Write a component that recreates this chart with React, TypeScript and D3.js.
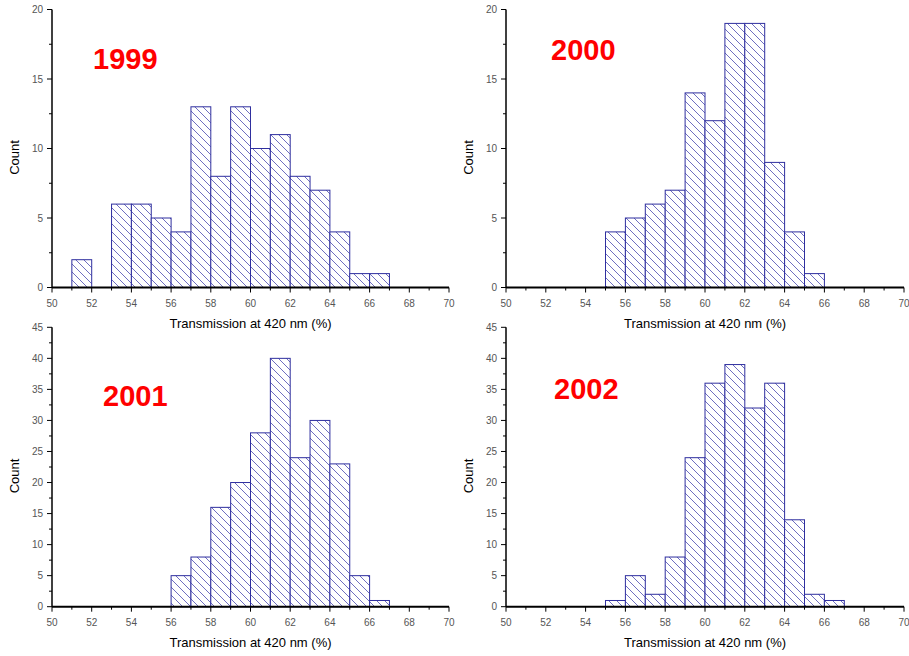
import React from "react";
import * as d3 from "d3";

// Histogram bins: each bin spans [start, start + 1) in % transmission
const bins1999 = [51, 52, 53, 54, 55, 56, 57, 58, 59, 60, 61, 62, 63, 64, 65, 66];
const counts1999 = [2, 0, 6, 6, 5, 4, 13, 8, 13, 10, 11, 8, 7, 4, 1, 1];

const bins2000 = [55, 56, 57, 58, 59, 60, 61, 62, 63, 64, 65];
const counts2000 = [4, 5, 6, 7, 14, 12, 19, 19, 9, 4, 1];

const bins2001 = [56, 57, 58, 59, 60, 61, 62, 63, 64, 65, 66];
const counts2001 = [5, 8, 16, 20, 28, 40, 24, 30, 23, 5, 1];

const bins2002 = [55, 56, 57, 58, 59, 60, 61, 62, 63, 64, 65, 66];
const counts2002 = [1, 5, 2, 8, 24, 36, 39, 32, 36, 14, 2, 1];

const years = ["1999", "2000", "2001", "2002"];
const xTickValues = [50, 52, 54, 56, 58, 60, 62, 64, 66, 68, 70];
const yMaxes = [20, 20, 45, 45];

const xTitle = "Transmission at 420 nm (%)";
const yTitle = "Count";

const binSets = [bins1999, bins2000, bins2001, bins2002];
const countSets = [counts1999, counts2000, counts2001, counts2002];

// Layout of the four panels (pixel frames)
const frames = [
  { left: 52, right: 449, top: 9.5, bottom: 287.5, yearX: 93, yearY: 69 },
  { left: 506, right: 904, top: 9.5, bottom: 287.5, yearX: 551, yearY: 60 },
  { left: 52, right: 449, top: 327.3, bottom: 606.7, yearX: 103, yearY: 406 },
  { left: 506, right: 904, top: 327.3, bottom: 606.7, yearX: 554, yearY: 399 },
];

const FONT = "Liberation Sans, Arial, sans-serif";
const BAR_STROKE = "#2f2f9f";
const HATCH = "#4a4ab0";

function Panel({ idx }: { idx: number }) {
  const f = frames[idx];
  const bins = binSets[idx];
  const counts = countSets[idx];
  const yMax = yMaxes[idx];

  const x = d3.scaleLinear().domain([50, 70]).range([f.left, f.right]);
  const y = d3.scaleLinear().domain([0, yMax]).range([f.bottom, f.top]);

  const xMinor = d3.range(50, 71, 1);
  const yMajor = d3.range(0, yMax + 0.001, 5);
  const yMinor = d3.range(0, yMax + 0.001, 2.5);

  return (
    <g>
      {/* bars */}
      {bins.map((b, i) => {
        const c = counts[i];
        if (c <= 0) return null;
        const x0 = x(b);
        const x1 = x(b + 1);
        const y0 = y(c);
        return (
          <rect
            key={i}
            x={x0}
            y={y0}
            width={x1 - x0}
            height={f.bottom - y0}
            fill="url(#hatch)"
            stroke={BAR_STROKE}
            strokeWidth={1}
          />
        );
      })}

      {/* y axis */}
      <line x1={f.left} x2={f.left} y1={f.top} y2={f.bottom} stroke="#000" strokeWidth={1.5} />
      {yMinor.map((v) => (
        <line
          key={"ym" + v}
          x1={f.left - (v % 5 === 0 ? 5 : 3)}
          x2={f.left}
          y1={y(v)}
          y2={y(v)}
          stroke="#000"
          strokeWidth={1}
        />
      ))}
      {yMajor.map((v) => (
        <text
          key={"yl" + v}
          x={f.left - 9}
          y={y(v)}
          dy="0.35em"
          textAnchor="end"
          fontFamily={FONT}
          fontSize={10}
          fill="#555"
        >
          {v}
        </text>
      ))}

      {/* x axis */}
      <line x1={f.left} x2={f.right} y1={f.bottom} y2={f.bottom} stroke="#000" strokeWidth={2} />
      {xMinor.map((v) => (
        <line
          key={"xm" + v}
          x1={x(v)}
          x2={x(v)}
          y1={f.bottom}
          y2={f.bottom + (v % 2 === 0 ? 5 : 3)}
          stroke="#000"
          strokeWidth={1}
        />
      ))}
      {xTickValues.map((v) => (
        <text
          key={"xl" + v}
          x={x(v)}
          y={f.bottom + 19.5}
          textAnchor="middle"
          fontFamily={FONT}
          fontSize={10}
          fill="#555"
        >
          {v}
        </text>
      ))}

      {/* titles */}
      <text
        x={(f.left + f.right) / 2}
        y={f.bottom + 40.5}
        textAnchor="middle"
        fontFamily={FONT}
        fontSize={13}
        fill="#000"
      >
        {xTitle}
      </text>
      <text
        transform={`translate(${f.left - 38},${(f.top + f.bottom) / 2 + 9}) rotate(-90)`}
        textAnchor="middle"
        dy="0.35em"
        fontFamily={FONT}
        fontSize={13}
        fill="#000"
      >
        {yTitle}
      </text>

      {/* year label */}
      <text
        x={f.yearX}
        y={f.yearY}
        fontFamily={FONT}
        fontSize={29}
        fontWeight="bold"
        fill="#ff0000"
      >
        {years[idx]}
      </text>
    </g>
  );
}

export default function App() {
  return (
    <svg
      width={909}
      height={656}
      style={{ position: "absolute", left: 0, top: 0, background: "#fff" }}
    >
      <defs>
        <pattern id="hatch" patternUnits="userSpaceOnUse" width={8} height={8}>
          <rect width={8} height={8} fill="#fff" />
          <path d="M-2,-2 L10,10 M-2,6 L2,10 M6,-2 L10,2" stroke={HATCH} strokeWidth={0.8} />
        </pattern>
      </defs>
      <rect width={909} height={656} fill="#fff" />
      {[0, 1, 2, 3].map((i) => (
        <Panel key={i} idx={i} />
      ))}
    </svg>
  );
}
